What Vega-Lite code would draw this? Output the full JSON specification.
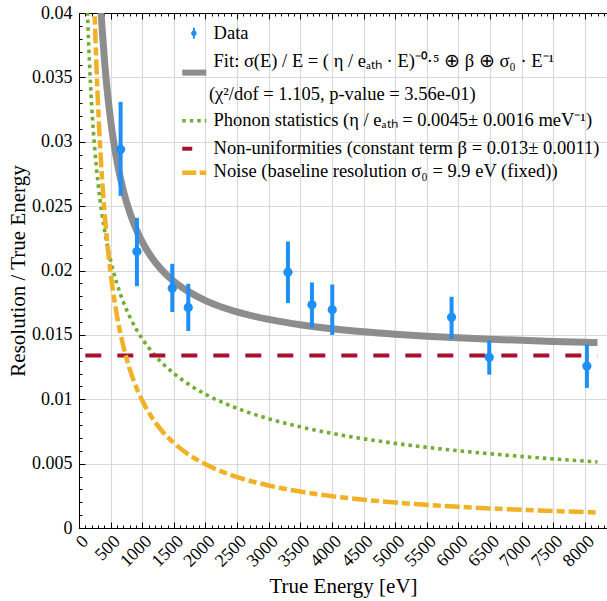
{
  "$schema": "https://vega.github.io/schema/vega-lite/v6.json",
  "width": 528,
  "height": 515,
  "autosize": {"type": "none"},
  "padding": {"left": 79, "top": 13, "right": 0, "bottom": 73},
  "background": "white",
  "config": {
    "view": {"stroke": null},
    "font": "Liberation Serif",
    "text": {"font": "Liberation Serif", "fontSize": 18.5, "color": "black", "align": "left", "baseline": "alphabetic"},
    "axis": {
      "labelFont": "Liberation Serif",
      "titleFont": "Liberation Serif",
      "labelColor": "black",
      "titleColor": "black",
      "domainColor": "black",
      "tickColor": "black",
      "titleFontWeight": "normal",
      "labelFontSize": 18,
      "titleFontSize": 21,
      "gridColor": "#d9d9d9",
      "gridWidth": 1.2,
      "labelOverlap": false,
      "labelFlush": false
    }
  },
  "datasets": {
    "curves": [
      {"E": 100, "fit": 0.11018, "ph": 0.04648, "no": 0.099},
      {"E": 120, "fit": 0.093733, "ph": 0.042426, "no": 0.0825},
      {"E": 140, "fit": 0.081994, "ph": 0.039279, "no": 0.070714},
      {"E": 160, "fit": 0.073199, "ph": 0.036742, "no": 0.061875},
      {"E": 180, "fit": 0.066367, "ph": 0.034641, "no": 0.055},
      {"E": 200, "fit": 0.060908, "ph": 0.032863, "no": 0.0495},
      {"E": 225, "fit": 0.055458, "ph": 0.030984, "no": 0.044},
      {"E": 250, "fit": 0.051105, "ph": 0.029394, "no": 0.0396},
      {"E": 275, "fit": 0.04755, "ph": 0.028026, "no": 0.036},
      {"E": 300, "fit": 0.044593, "ph": 0.026833, "no": 0.033},
      {"E": 330, "fit": 0.041643, "ph": 0.025584, "no": 0.03},
      {"E": 360, "fit": 0.039189, "ph": 0.024495, "no": 0.0275},
      {"E": 400, "fit": 0.036498, "ph": 0.023238, "no": 0.02475},
      {"E": 450, "fit": 0.033817, "ph": 0.021909, "no": 0.022},
      {"E": 500, "fit": 0.03168, "ph": 0.020785, "no": 0.0198},
      {"E": 550, "fit": 0.029938, "ph": 0.019817, "no": 0.018},
      {"E": 600, "fit": 0.028492, "ph": 0.018974, "no": 0.0165},
      {"E": 700, "fit": 0.026233, "ph": 0.017566, "no": 0.014143},
      {"E": 800, "fit": 0.02455, "ph": 0.016432, "no": 0.012375},
      {"E": 900, "fit": 0.02325, "ph": 0.015492, "no": 0.011},
      {"E": 1000, "fit": 0.022216, "ph": 0.014697, "no": 0.0099},
      {"E": 1150, "fit": 0.021012, "ph": 0.013705, "no": 0.008609},
      {"E": 1300, "fit": 0.020093, "ph": 0.01289, "no": 0.007615},
      {"E": 1500, "fit": 0.01916, "ph": 0.012, "no": 0.0066},
      {"E": 1750, "fit": 0.018303, "ph": 0.01111, "no": 0.005657},
      {"E": 2000, "fit": 0.017665, "ph": 0.010392, "no": 0.00495},
      {"E": 2300, "fit": 0.017088, "ph": 0.009691, "no": 0.004304},
      {"E": 2600, "fit": 0.016648, "ph": 0.009115, "no": 0.003808},
      {"E": 3000, "fit": 0.0162, "ph": 0.008485, "no": 0.0033},
      {"E": 3500, "fit": 0.015788, "ph": 0.007856, "no": 0.002829},
      {"E": 4000, "fit": 0.015482, "ph": 0.007348, "no": 0.002475},
      {"E": 4500, "fit": 0.015245, "ph": 0.006928, "no": 0.0022},
      {"E": 5000, "fit": 0.015056, "ph": 0.006573, "no": 0.00198},
      {"E": 5500, "fit": 0.014902, "ph": 0.006267, "no": 0.0018},
      {"E": 6000, "fit": 0.014774, "ph": 0.006, "no": 0.00165},
      {"E": 6500, "fit": 0.014667, "ph": 0.005765, "no": 0.001523},
      {"E": 7000, "fit": 0.014575, "ph": 0.005555, "no": 0.001414},
      {"E": 7500, "fit": 0.014495, "ph": 0.005367, "no": 0.00132},
      {"E": 8000, "fit": 0.014425, "ph": 0.005196, "no": 0.001238},
      {"E": 8200, "fit": 0.0144, "ph": 0.005132, "no": 0.001207}
    ],
    "flat": [
      {"E": 100, "v": 0.0134},
      {"E": 8200, "v": 0.0134}
    ],
    "pts": [
      {"E": 658, "v": 0.0294, "lo": 0.0258, "hi": 0.0331},
      {"E": 916, "v": 0.02147, "lo": 0.01878, "hi": 0.02409},
      {"E": 1475, "v": 0.01863, "lo": 0.01677, "hi": 0.02052},
      {"E": 1728, "v": 0.01713, "lo": 0.0153, "hi": 0.01897},
      {"E": 3304, "v": 0.01987, "lo": 0.01747, "hi": 0.02225},
      {"E": 3684, "v": 0.01734, "lo": 0.01556, "hi": 0.01907},
      {"E": 4005, "v": 0.01695, "lo": 0.01499, "hi": 0.01891},
      {"E": 5892, "v": 0.01636, "lo": 0.01468, "hi": 0.01796},
      {"E": 6488, "v": 0.01326, "lo": 0.01191, "hi": 0.01457},
      {"E": 8032, "v": 0.01258, "lo": 0.01088, "hi": 0.01426}
    ]
  },
  "layer": [
    {
      "data": {"name": "pts"},
      "mark": {"type": "point", "opacity": 0},
      "encoding": {
        "x": {
          "field": "E", "type": "quantitative",
          "scale": {"domain": [0, 8350], "nice": false, "zero": false},
          "axis": {
            "orient": "bottom",
            "values": [0, 500, 1000, 1500, 2000, 2500, 3000, 3500, 4000, 4500, 5000, 5500, 6000, 6500, 7000, 7500, 8000],
            "format": "d",
            "labelAngle": -45, "ticks": false, "grid": true, "domain": true,
            "title": "True Energy [eV]", "labelPadding": 4,
            "titleBaseline": "alphabetic", "titleY": 64, "labelFlush": false, "labelOverlap": false
          }
        }
      }
    },
    {
      "data": {"name": "pts"},
      "mark": {"type": "point", "opacity": 0},
      "encoding": {
        "y": {
          "field": "v", "type": "quantitative",
          "scale": {"domain": [0, 0.04], "nice": false},
          "axis": {
            "orient": "left",
            "values": [0, 0.005, 0.01, 0.015, 0.02, 0.025, 0.03, 0.035, 0.04],
            "format": ".3~f",
            "ticks": false, "grid": true, "domain": true,
            "title": "Resolution / True Energy", "labelPadding": 7,
            "titleBaseline": "alphabetic", "titleX": -55, "labelFlush": false, "labelOverlap": false
          }
        }
      }
    },
    {
      "layer": [
        {
          "data": {"name": "curves"},
          "mark": {"type": "line", "color": "#8d8d8d", "strokeWidth": 7, "clip": true, "interpolate": "monotone"},
          "encoding": {
            "x": {"field": "E", "type": "quantitative", "axis": null},
            "y": {"field": "fit", "type": "quantitative", "axis": null}
          }
        },
        {
          "data": {"name": "curves"},
          "mark": {"type": "line", "color": "#72ad32", "strokeWidth": 3.6, "strokeDash": [3.5, 4], "clip": true, "interpolate": "monotone"},
          "encoding": {
            "x": {"field": "E", "type": "quantitative", "axis": null},
            "y": {"field": "ph", "type": "quantitative", "axis": null}
          }
        },
        {
          "data": {"name": "flat"},
          "mark": {"type": "line", "color": "#a5122f", "strokeWidth": 4, "strokeDash": [16, 16], "clip": true},
          "encoding": {
            "x": {"field": "E", "type": "quantitative", "axis": null},
            "y": {"field": "v", "type": "quantitative", "axis": null}
          }
        },
        {
          "data": {"name": "curves"},
          "mark": {"type": "line", "color": "#f0b127", "strokeWidth": 4.5, "strokeDash": [15, 4, 8, 4], "clip": true, "interpolate": "monotone"},
          "encoding": {
            "x": {"field": "E", "type": "quantitative", "axis": null},
            "y": {"field": "no", "type": "quantitative", "axis": null}
          }
        },
        {
          "data": {"name": "pts"},
          "mark": {"type": "rule", "color": "#1e8ff7", "strokeWidth": 4},
          "encoding": {
            "x": {"field": "E", "type": "quantitative", "axis": null},
            "y": {"field": "lo", "type": "quantitative", "axis": null},
            "y2": {"field": "hi"}
          }
        },
        {
          "data": {"name": "pts"},
          "mark": {"type": "point", "filled": true, "color": "#1e8ff7", "size": 85, "opacity": 1},
          "encoding": {
            "x": {"field": "E", "type": "quantitative", "axis": null},
            "y": {"field": "v", "type": "quantitative", "axis": null}
          }
        },
        {
          "data": {"values": [{}]},
          "mark": {"type": "rule", "color": "#1e8ff7", "strokeWidth": 2},
          "encoding": {
            "x": {"datum": 1817, "type": "quantitative", "axis": null},
            "y": {"datum": 0.03801, "type": "quantitative", "axis": null},
            "y2": {"datum": 0.03886}
          }
        },
        {
          "data": {"values": [{}]},
          "mark": {"type": "point", "filled": true, "color": "#1e8ff7", "size": 28, "opacity": 1},
          "encoding": {
            "x": {"datum": 1817, "type": "quantitative", "axis": null},
            "y": {"datum": 0.03843, "type": "quantitative", "axis": null}
          }
        },
        {
          "data": {"values": [{}]},
          "mark": {"type": "rule", "color": "#8d8d8d", "strokeWidth": 6},
          "encoding": {
            "x": {"datum": 1633, "type": "quantitative", "axis": null},
            "x2": {"datum": 2013},
            "y": {"datum": 0.03537, "type": "quantitative", "axis": null}
          }
        },
        {
          "data": {"values": [{}]},
          "mark": {"type": "rule", "color": "#72ad32", "strokeWidth": 3.6, "strokeDash": [3.5, 4]},
          "encoding": {
            "x": {"datum": 1633, "type": "quantitative", "axis": null},
            "x2": {"datum": 2013},
            "y": {"datum": 0.03163, "type": "quantitative", "axis": null}
          }
        },
        {
          "data": {"values": [{}]},
          "mark": {"type": "rule", "color": "#a5122f", "strokeWidth": 4},
          "encoding": {
            "x": {"datum": 1633, "type": "quantitative", "axis": null},
            "x2": {"datum": 1791},
            "y": {"datum": 0.02946, "type": "quantitative", "axis": null}
          }
        },
        {
          "data": {"values": [{}]},
          "mark": {"type": "rule", "color": "#f0b127", "strokeWidth": 4.5, "strokeDash": [14, 3.5, 7, 3.5]},
          "encoding": {
            "x": {"datum": 1633, "type": "quantitative", "axis": null},
            "x2": {"datum": 2013},
            "y": {"datum": 0.0276, "type": "quantitative", "axis": null}
          }
        },
        {
          "data": {"values": [{}]},
          "mark": {"type": "text", "align": "left", "baseline": "alphabetic", "fontSize": 18.5, "font": "Liberation Serif", "color": "black"},
          "encoding": {
            "x": {"datum": 2128, "type": "quantitative", "axis": null},
            "y": {"datum": 0.03801, "type": "quantitative", "axis": null},
            "text": {"value": "Data"}
          }
        },
        {
          "data": {"values": [{}]},
          "mark": {"type": "text", "align": "left", "baseline": "alphabetic", "fontSize": 18.5, "font": "Liberation Serif", "color": "black"},
          "encoding": {
            "x": {"datum": 2128, "type": "quantitative", "axis": null},
            "y": {"datum": 0.03584, "type": "quantitative", "axis": null},
            "text": {"value": "Fit: σ(E) / E = ( η / eₐₜₕ · E)⁻⁰·⁵ ⊕ β ⊕ σ₀ · E⁻¹"}
          }
        },
        {
          "data": {"values": [{}]},
          "mark": {"type": "text", "align": "left", "baseline": "alphabetic", "fontSize": 18.5, "font": "Liberation Serif", "color": "black"},
          "encoding": {
            "x": {"datum": 2054, "type": "quantitative", "axis": null},
            "y": {"datum": 0.03326, "type": "quantitative", "axis": null},
            "text": {"value": "(χ²/dof = 1.105, p-value = 3.56e-01)"}
          }
        },
        {
          "data": {"values": [{}]},
          "mark": {"type": "text", "align": "left", "baseline": "alphabetic", "fontSize": 18.5, "font": "Liberation Serif", "color": "black"},
          "encoding": {
            "x": {"datum": 2128, "type": "quantitative", "axis": null},
            "y": {"datum": 0.03124, "type": "quantitative", "axis": null},
            "text": {"value": "Phonon statistics (η / eₐₜₕ = 0.0045± 0.0016 meV⁻¹)"}
          }
        },
        {
          "data": {"values": [{}]},
          "mark": {"type": "text", "align": "left", "baseline": "alphabetic", "fontSize": 18.5, "font": "Liberation Serif", "color": "black"},
          "encoding": {
            "x": {"datum": 2128, "type": "quantitative", "axis": null},
            "y": {"datum": 0.02905, "type": "quantitative", "axis": null},
            "text": {"value": "Non-uniformities (constant term β = 0.013± 0.0011)"}
          }
        },
        {
          "data": {"values": [{}]},
          "mark": {"type": "text", "align": "left", "baseline": "alphabetic", "fontSize": 18.5, "font": "Liberation Serif", "color": "black"},
          "encoding": {
            "x": {"datum": 2128, "type": "quantitative", "axis": null},
            "y": {"datum": 0.02729, "type": "quantitative", "axis": null},
            "text": {"value": "Noise (baseline resolution σ₀ = 9.9 eV (fixed))"}
          }
        }
      ]
    },
    {
      "data": {"name": "pts"},
      "mark": {"type": "point", "opacity": 0},
      "encoding": {
        "x": {
          "field": "E", "type": "quantitative",
          "axis": {"orient": "bottom", "values": [0, 500, 1000, 1500, 2000, 2500, 3000, 3500, 4000, 4500, 5000, 5500, 6000, 6500, 7000, 7500, 8000], "labels": false, "grid": false, "domain": false, "ticks": true, "tickSize": -6, "title": null}
        }
      }
    },
    {
      "data": {"name": "pts"},
      "mark": {"type": "point", "opacity": 0},
      "encoding": {
        "x": {
          "field": "E", "type": "quantitative",
          "axis": {"orient": "bottom", "values": [0,100,200,300,400,500,600,700,800,900,1000,1100,1200,1300,1400,1500,1600,1700,1800,1900,2000,2100,2200,2300,2400,2500,2600,2700,2800,2900,3000,3100,3200,3300,3400,3500,3600,3700,3800,3900,4000,4100,4200,4300,4400,4500,4600,4700,4800,4900,5000,5100,5200,5300,5400,5500,5600,5700,5800,5900,6000,6100,6200,6300,6400,6500,6600,6700,6800,6900,7000,7100,7200,7300,7400,7500,7600,7700,7800,7900,8000,8100,8200,8300], "labels": false, "grid": false, "domain": false, "ticks": true, "tickSize": -3, "title": null}
        }
      }
    },
    {
      "data": {"name": "pts"},
      "mark": {"type": "point", "opacity": 0},
      "encoding": {
        "x": {
          "field": "E", "type": "quantitative",
          "axis": {"orient": "top", "values": [0, 500, 1000, 1500, 2000, 2500, 3000, 3500, 4000, 4500, 5000, 5500, 6000, 6500, 7000, 7500, 8000], "labels": false, "grid": false, "domain": true, "ticks": true, "tickSize": -6, "title": null}
        }
      }
    },
    {
      "data": {"name": "pts"},
      "mark": {"type": "point", "opacity": 0},
      "encoding": {
        "x": {
          "field": "E", "type": "quantitative",
          "axis": {"orient": "top", "values": [0,100,200,300,400,500,600,700,800,900,1000,1100,1200,1300,1400,1500,1600,1700,1800,1900,2000,2100,2200,2300,2400,2500,2600,2700,2800,2900,3000,3100,3200,3300,3400,3500,3600,3700,3800,3900,4000,4100,4200,4300,4400,4500,4600,4700,4800,4900,5000,5100,5200,5300,5400,5500,5600,5700,5800,5900,6000,6100,6200,6300,6400,6500,6600,6700,6800,6900,7000,7100,7200,7300,7400,7500,7600,7700,7800,7900,8000,8100,8200,8300], "labels": false, "grid": false, "domain": false, "ticks": true, "tickSize": -3, "title": null}
        }
      }
    },
    {
      "data": {"name": "pts"},
      "mark": {"type": "point", "opacity": 0},
      "encoding": {
        "y": {
          "field": "v", "type": "quantitative",
          "axis": {"orient": "left", "values": [0, 0.005, 0.01, 0.015, 0.02, 0.025, 0.03, 0.035, 0.04], "labels": false, "grid": false, "domain": false, "ticks": true, "tickSize": -6, "title": null}
        }
      }
    },
    {
      "data": {"name": "pts"},
      "mark": {"type": "point", "opacity": 0},
      "encoding": {
        "y": {
          "field": "v", "type": "quantitative",
          "axis": {"orient": "left", "values": [0,0.001,0.002,0.003,0.004,0.005,0.006,0.007,0.008,0.009,0.01,0.011,0.012,0.013,0.014,0.015,0.016,0.017,0.018,0.019,0.02,0.021,0.022,0.023,0.024,0.025,0.026,0.027,0.028,0.029,0.03,0.031,0.032,0.033,0.034,0.035,0.036,0.037,0.038,0.039,0.04], "labels": false, "grid": false, "domain": false, "ticks": true, "tickSize": -3, "title": null}
        }
      }
    }
  ],
  "resolve": {"axis": {"x": "independent", "y": "independent"}}
}
